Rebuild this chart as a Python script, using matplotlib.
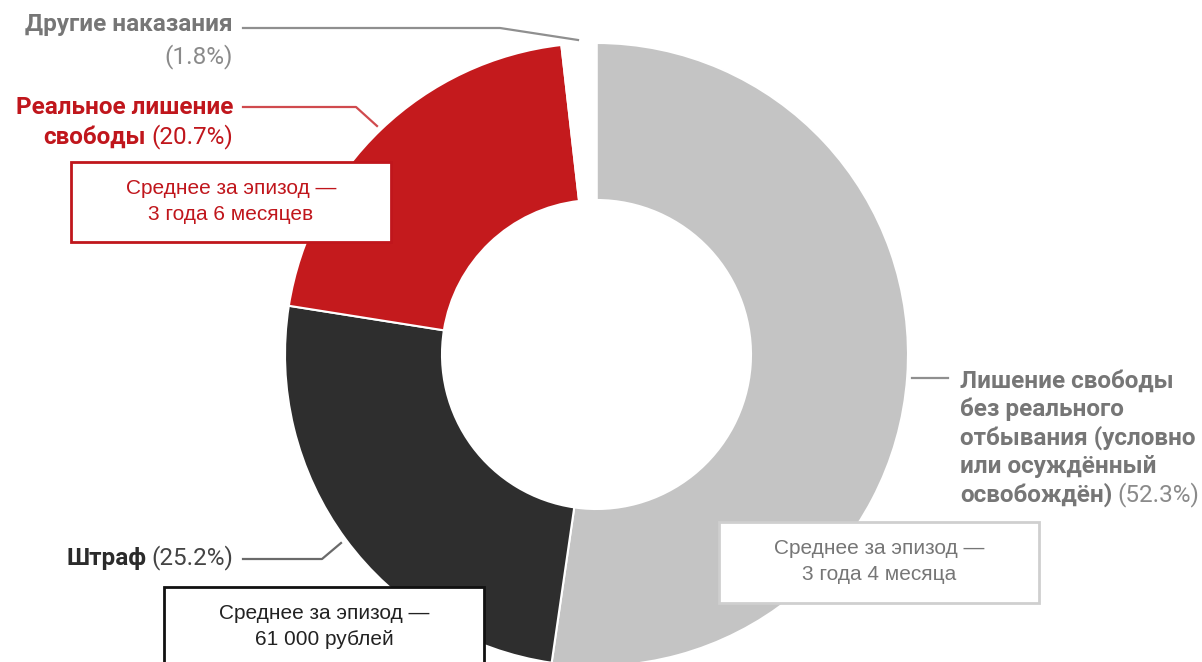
import matplotlib
matplotlib.use("Agg")
import matplotlib.pyplot as plt
from matplotlib.patches import Rectangle

plt.rcParams['font.family'] = ['Roboto', 'DejaVu Sans']

# доли видов наказаний, по часовой стрелке от верха
labels = ["Лишение свободы без реального отбывания", "Штраф",
          "Реальное лишение свободы", "Другие наказания"]
shares = [52.3, 25.2, 20.7, 1.8]
colors = ["#c4c4c4", "#2e2e2e", "#c41a1d", "#ffffff"]

avg_texts = {
    "cond": "Среднее за эпизод —\n3 года 4 месяца",
    "fine": "Среднее за эпизод —\n61 000 рублей",
    "real": "Среднее за эпизод —\n3 года 6 месяцев",
}

GREY = "#767676"
RED = "#c0161c"
DARK = "#2b2b2b"

W, H = 1202, 662
fig = plt.figure(figsize=(W / 100, H / 100), dpi=100)
ax = fig.add_axes([0, 0, 1, 1])

cx, cy, R = 596.5, 354.5, 311.5
ax.pie(shares, colors=colors, startangle=-90, counterclock=True,
       center=(cx, cy), radius=R,
       wedgeprops=dict(width=157, edgecolor="white", linewidth=1.5))
ax.set_xlim(0, W)
ax.set_ylim(H, 0)
ax.set_aspect("equal")
ax.axis("off")

renderer = fig.canvas.get_renderer()


def text_width(t):
    bb = t.get_window_extent(renderer=renderer)
    inv = ax.transData.inverted()
    (x0, _), (x1, _) = inv.transform([[bb.x0, 0], [bb.x1, 0]])
    return abs(x1 - x0)


FS = 17.5


def label_right(x, y, bold, regular, color, rcolor):
    # жирная часть + обычная, выравнивание вправо по x
    if regular:
        t = ax.text(x, y, regular, ha="right", va="center", fontsize=FS,
                    color=rcolor)
        x = x - text_width(t) - 5
    if bold:
        ax.text(x, y, bold, ha="right", va="center", fontsize=FS,
                color=color, fontweight="bold")


def label_left(x, y, bold, regular, color, rcolor):
    t = ax.text(x, y, bold, ha="left", va="center", fontsize=FS,
                color=color, fontweight="bold")
    if regular:
        ax.text(x + text_width(t) + 5, y, regular, ha="left", va="center",
                fontsize=FS, color=rcolor)


# Другие наказания
label_right(233, 25, "Другие наказания", "", GREY, GREY)
label_right(233, 57, "", "(1.8%)", GREY, "#8a8a8a")
ax.plot([243, 500, 578], [28, 28, 40], color="#8f8f8f", lw=1.6)

# Реальное лишение свободы
label_right(233, 107, "Реальное лишение", "", RED, RED)
label_right(233, 137, "свободы", "(20.7%)", RED, RED)
ax.plot([243, 356, 377], [107, 107, 126], color="#d04a4e", lw=1.6)

# Штраф
label_right(233, 558, "Штраф", "(25.2%)", DARK, "#444444")
ax.plot([243, 322, 341], [559, 559, 543], color="#6a6a6a", lw=1.6)

# Лишение свободы без реального отбывания
for i, line in enumerate(["Лишение свободы", "без реального",
                          "отбывания (условно", "или осуждённый"]):
    label_left(960, 381 + i * 28.5, line, "", GREY, GREY)
label_left(960, 495, "освобождён)", "(52.3%)", GREY, "#8a8a8a")
ax.plot([912, 948], [378, 378], color="#8f8f8f", lw=1.6)


def avg_box(x0, y0, x1, y1, text, ec, tc, lw):
    ax.add_patch(Rectangle((x0, y0), x1 - x0, y1 - y0, facecolor="white",
                           edgecolor=ec, lw=lw, zorder=5, clip_on=False))
    ax.text((x0 + x1) / 2, y0 + 39.5, text, ha="center", va="center",
            fontsize=15, color=tc, linespacing=1.5, zorder=6,
            family=["Liberation Sans", "DejaVu Sans"])


avg_box(71, 162, 391, 242, avg_texts["real"], "#c0161c", RED, 2)
avg_box(719, 522, 1039, 603, avg_texts["cond"], "#cfcfcf", GREY, 2)
avg_box(164, 587, 484, 668, avg_texts["fine"], "#111111", "#222222", 2)

fig.savefig("out.png", dpi=100)
